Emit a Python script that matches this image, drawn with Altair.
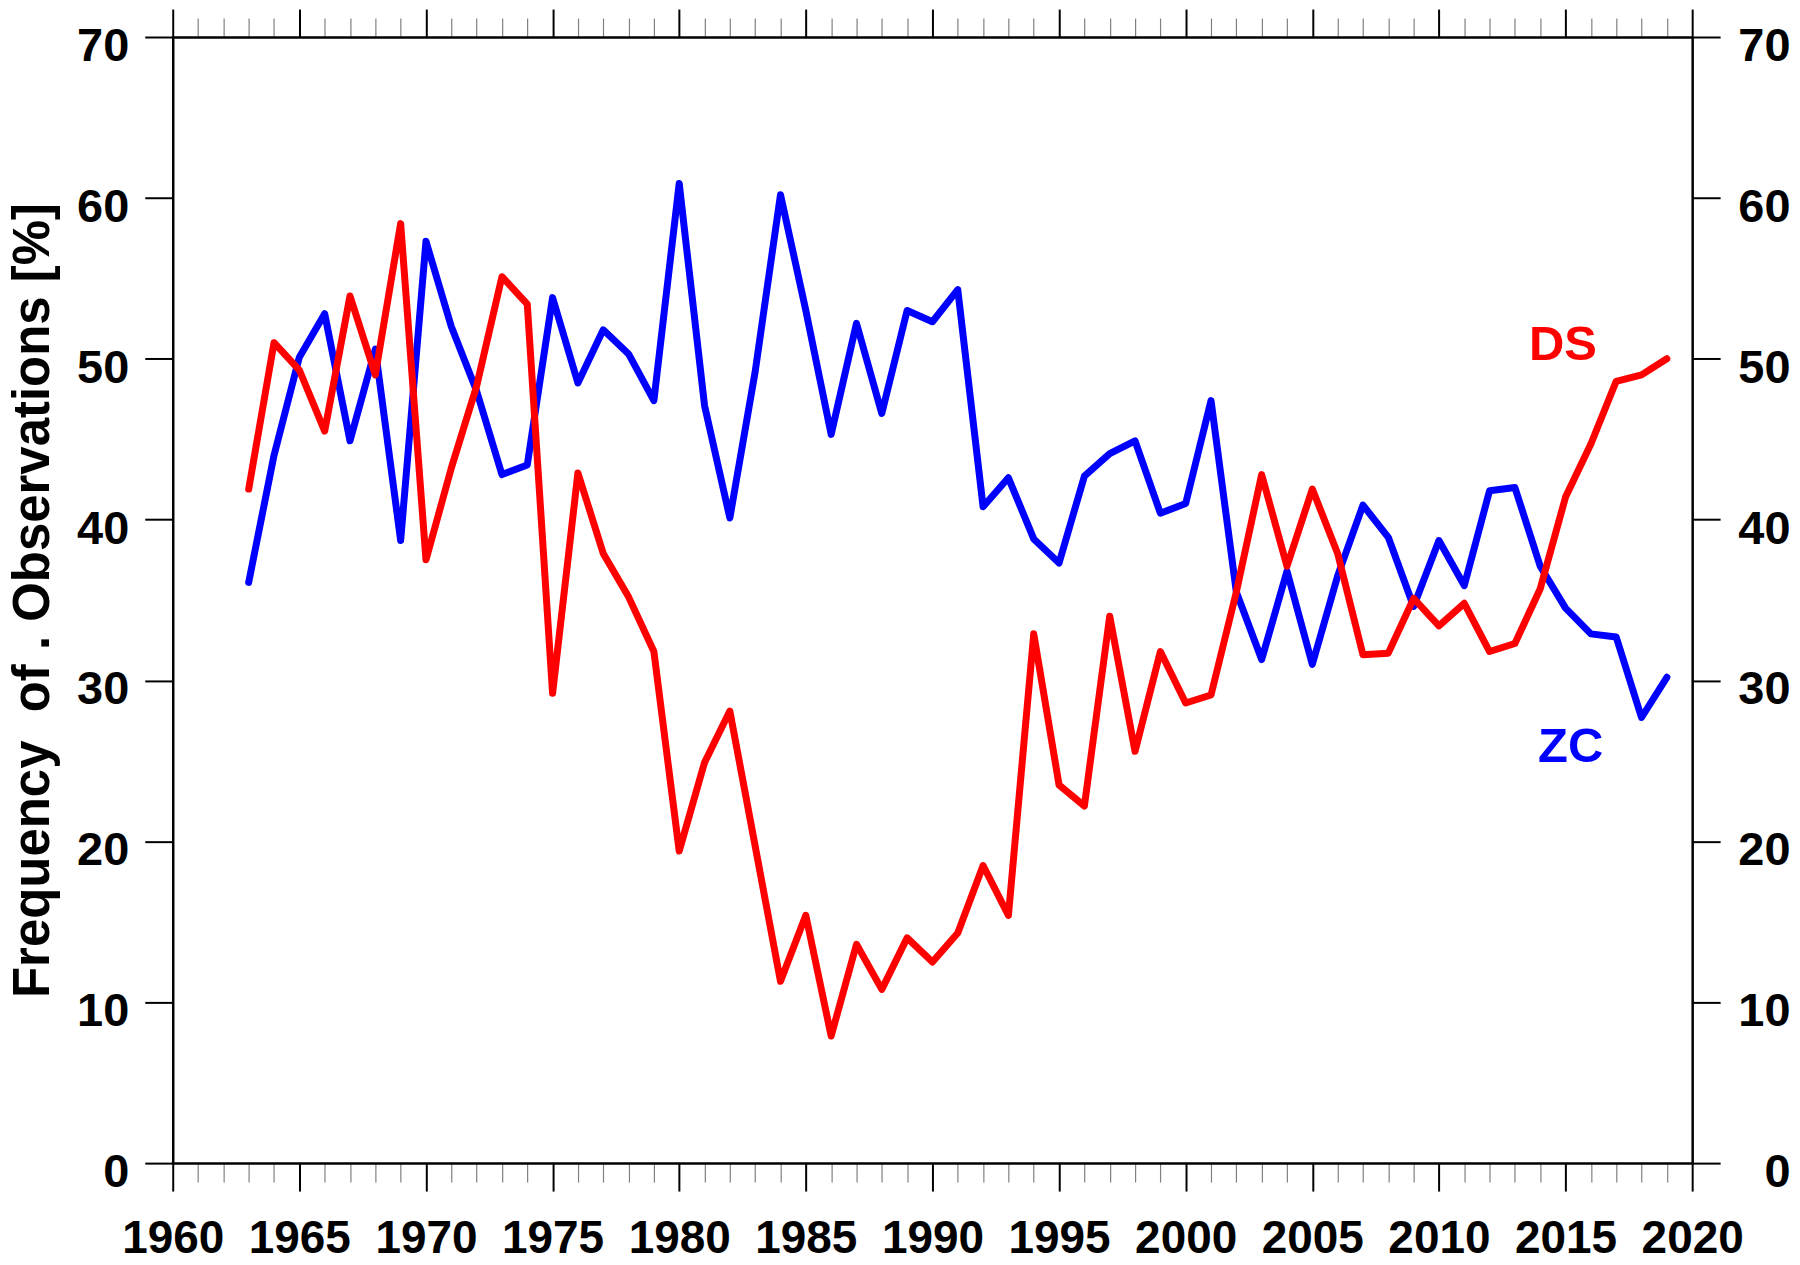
import altair as alt
import pandas as pd

# ---- data ----
years = list(range(1963, 2020))

zc = [36.1, 44.0, 50.1, 52.8, 44.9, 50.6, 38.7, 57.3, 52.0, 48.0,
      42.8, 43.4, 53.8, 48.5, 51.8, 50.3, 47.4, 60.9, 47.1, 40.1,
      49.2, 60.2, 53.0, 45.3, 52.2, 46.6, 53.0, 52.3, 54.3, 40.8,
      42.6, 38.8, 37.3, 42.7, 44.1, 44.9, 40.4, 41.0, 47.4, 35.5,
      31.3, 36.8, 31.0, 36.5, 40.9, 38.9, 34.6, 38.7, 35.9, 41.8,
      42.0, 37.1, 34.5, 32.9, 32.7, 27.7, 30.2]

ds = [41.9, 51.0, 49.3, 45.5, 53.9, 49.0, 58.4, 37.5, 43.2, 48.3,
      55.1, 53.4, 29.2, 42.9, 37.9, 35.2, 31.8, 19.4, 24.9, 28.1,
      19.7, 11.3, 15.4, 7.9, 13.6, 10.8, 14.0, 12.5, 14.3, 18.5,
      15.4, 32.9, 23.5, 22.2, 34.0, 25.6, 31.8, 28.6, 29.1, 35.5,
      42.8, 37.1, 41.9, 37.9, 31.6, 31.7, 35.1, 33.4, 34.8, 31.8,
      32.3, 35.7, 41.4, 44.7, 48.6, 49.0, 50.0]

label_text = ["DS", "ZC"]
label_year = [2014.9, 2015.2]
label_value = [49.9, 24.95]
label_color = ["#ff0000", "#0000ff"]

x_ticks = list(range(1960, 2021))
y_ticks = list(range(0, 71, 10))

df_zc = pd.DataFrame({"year": years, "value": zc})
df_ds = pd.DataFrame({"year": years, "value": ds})
df_lab = pd.DataFrame({"year": label_year, "value": label_value,
                       "label": label_text, "color": label_color})

FONT = "Liberation Sans"
xscale = alt.Scale(domain=[1960, 2020], nice=False, zero=False)
yscale = alt.Scale(domain=[0, 70], nice=False, zero=False)

major = "datum.value % 5 === 0"
tick_size = {"condition": {"test": major, "value": 28}, "value": 19}
tick_width = {"condition": {"test": major, "value": 2}, "value": 1.2}
tick_color = {"condition": {"test": major, "value": "#000000"}, "value": "#808080"}

common = dict(grid=False, domainColor="#000000", domainWidth=2.5, ticks=True)

x_bottom = alt.Axis(orient="bottom", values=x_ticks, format="d",
                    labelExpr=f"{major} ? datum.label : ''", title=None,
                    tickSize=tick_size, tickWidth=tick_width, tickColor=tick_color,
                    labelFont=FONT, labelFontSize=46, labelFontWeight="bold",
                    labelColor="#000000", labelPadding=26, labelBaseline="top",
                    labelFlush=False, labelOverlap=False, **common)
x_top = alt.Axis(orient="top", values=x_ticks, labels=False, title=None,
                 tickSize=tick_size, tickWidth=tick_width, tickColor=tick_color,
                 **common)
y_left = alt.Axis(orient="left", values=y_ticks, format="d",
                  tickSize=28, tickWidth=2, tickColor="#000000",
                  labelFont=FONT, labelFontSize=47, labelFontWeight="bold",
                  labelColor="#000000", labelAlign="right",
                  labelBaseline="alphabetic", labelOffset=23.5, labelPadding=16,
                  labelFlush=False, labelOverlap=False,
                  title="Frequency\u00a0\u00a0of . Observations [%]",
                  titleFont=FONT, titleFontSize=51, titleFontWeight="bold",
                  titleColor="#000000", titleAngle=270, titleAlign="center",
                  titleBaseline="alphabetic", titleX=-124, titleY=564,
                  **common)
y_right = alt.Axis(orient="right", values=y_ticks, format="d",
                   tickSize=28, tickWidth=2, tickColor="#000000",
                   labelFont=FONT, labelFontSize=47, labelFontWeight="bold",
                   labelColor="#000000", labelAlign="right",
                   labelBaseline="alphabetic", labelOffset=23.5, labelPadding=70,
                   labelFlush=False, labelOverlap=False, title=None,
                   **common)

blue = alt.Chart(df_zc).mark_line(
    color="#0000ff", strokeWidth=7, strokeJoin="round", strokeCap="round"
).encode(
    x=alt.X("year:Q", scale=xscale, axis=x_top),
    y=alt.Y("value:Q", scale=yscale, axis=y_right),
)

red = alt.Chart(df_ds).mark_line(
    color="#ff0000", strokeWidth=7, strokeJoin="round", strokeCap="round"
).encode(
    x=alt.X("year:Q", scale=xscale, axis=x_bottom),
    y=alt.Y("value:Q", scale=yscale, axis=y_left),
)

labels = alt.Chart(df_lab).mark_text(
    font=FONT, fontSize=49, fontWeight="bold", align="center", baseline="alphabetic"
).encode(
    x=alt.X("year:Q", scale=xscale, axis=None),
    y=alt.Y("value:Q", scale=yscale, axis=None),
    text="label:N",
    color=alt.Color("color:N", scale=None),
)

chart = alt.layer(blue, red, labels).resolve_axis(
    x="independent", y="independent"
).properties(
    width=1522, height=1128,
    autosize=alt.AutoSizeParams(type="none"),
    padding={"left": 165, "top": 28, "right": 100, "bottom": 101},
    background="#ffffff",
).configure_view(strokeWidth=0)

chart.save("out.html", embed_options={"renderer": "svg", "actions": False})
